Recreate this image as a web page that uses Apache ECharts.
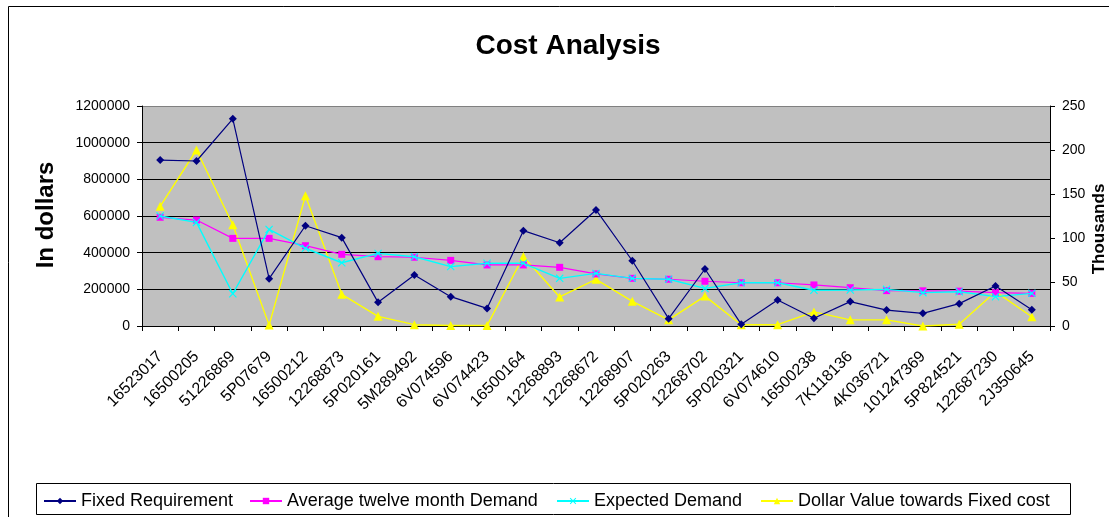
<!DOCTYPE html>
<html>
<head>
<meta charset="utf-8">
<script src="https://cdn.jsdelivr.net/npm/echarts@6/dist/echarts.min.js"></script>
<style>
html,body{margin:0;padding:0;background:#fff;}
#chart{width:1109px;height:517px;}
</style>
</head>
<body>
<div id="chart"></div>
<script>
const categories = ['16523017','16500205','51226869','5P07679','16500212','12268873','5P020161','5M289492','6V074596','6V074423','16500164','12268893','12268672','12268907','5P020263','12268702','5P020321','6V074610','16500238','7K118136','4K036721','101247369','5P824521','122687230','2J350645'];

const fixedRequirement = [905000, 900000, 1130000, 258000, 547000, 482000, 129000, 278000, 160000, 96000, 520000, 454000, 633000, 356000, 40000, 311000, 9000, 142000, 42000, 133000, 87000, 69000, 122000, 218000, 89000];

const avgTwelveMonthDemand = [593000, 578000, 478000, 478000, 438000, 391000, 378000, 375000, 358000, 333000, 333000, 320000, 284000, 260000, 255000, 244000, 236000, 236000, 224000, 209000, 193000, 192000, 190000, 182000, 178000];

const expectedDemand = [600000, 565000, 176000, 527000, 424000, 345000, 396000, 378000, 324000, 342000, 342000, 260000, 287000, 260000, 255000, 205000, 236000, 236000, 195000, 196000, 200000, 182000, 187000, 160000, 178000];

// secondary axis, in thousands of dollars
const dollarValueThousands = [136, 200, 115, 1, 148, 36, 11, 1.5, 0.5, 0.5, 79, 33, 53, 28, 7, 34, 1.5, 1.5, 16, 7, 7, 0, 2, 39, 10.5];

const leftTicks = [0, 200000, 400000, 600000, 800000, 1000000, 1200000];
const rightTicks = [0, 50, 100, 150, 200, 250];

const FONT = "'Liberation Sans', Arial, sans-serif";
const X_PATH = 'path://M0,1 L1,0 L5,4 L9,0 L10,1 L6,5 L10,9 L9,10 L5,6 L1,10 L0,9 L4,5 Z';

const chart = echarts.init(document.getElementById('chart'), null, {renderer: 'canvas'});

function legendAt(name, left) {
  return {
    left: left, top: 492, padding: 0,
    itemWidth: 32, itemHeight: 8, itemGap: 0,
    textStyle: {fontFamily: FONT, fontSize: 18, color: '#000'},
    data: [name]
  };
}

chart.setOption({
  animation: false,
  backgroundColor: '#fff',
  title: {
    text: 'Cost Analysis',
    left: 563, top: 27, textAlign: 'center',
    textStyle: {fontFamily: FONT, fontSize: 28, fontWeight: 'bold', color: '#000'}
  },
  graphic: [
    {type: 'rect', shape: {x: 8.5, y: 6.5, width: 1200, height: 700}, style: {fill: 'none', stroke: '#000', lineWidth: 1}, silent: true, z: -1},
    {type: 'rect', shape: {x: 36.5, y: 483.5, width: 1034, height: 31}, style: {fill: '#fff', stroke: '#000', lineWidth: 1}, silent: true, z: 0},
    {type: 'text', x: 46, y: 215, rotation: Math.PI / 2,
      style: {text: 'In dollars', fontFamily: FONT, fontSize: 24, fontWeight: 'bold', fill: '#000', textAlign: 'center', textVerticalAlign: 'middle'}},
    {type: 'text', x: 1099, y: 229, rotation: Math.PI / 2,
      style: {text: 'Thousands', fontFamily: FONT, fontSize: 17, fontWeight: 'bold', fill: '#000', textAlign: 'center', textVerticalAlign: 'middle'}}
  ],
  legend: [
    legendAt('Fixed Requirement', 43),
    legendAt('Average twelve month Demand', 249),
    legendAt('Expected Demand', 556),
    legendAt('Dollar Value towards Fixed cost', 760)
  ],
  grid: {
    left: 142, right: 59, top: 106, bottom: 191,
    show: true, backgroundColor: '#C0C0C0', borderWidth: 0
  },
  xAxis: {
    type: 'category',
    data: categories,
    boundaryGap: true,
    axisLine: {show: true, lineStyle: {color: '#000', width: 1}},
    axisTick: {show: true, interval: 0, length: 5, lineStyle: {color: '#000'}},
    axisLabel: {interval: 0, rotate: 45, margin: 28, fontFamily: FONT, fontSize: 16, color: '#000'},
    splitLine: {show: false}
  },
  yAxis: [
    {
      type: 'value', min: leftTicks[0], max: leftTicks[leftTicks.length - 1], interval: leftTicks[1] - leftTicks[0],
      position: 'left',
      axisLine: {show: true, lineStyle: {color: '#000', width: 1}},
      axisTick: {show: true, length: 5, lineStyle: {color: '#000'}},
      axisLabel: {margin: 12, fontFamily: FONT, fontSize: 14, color: '#000', formatter: v => String(v)},
      splitLine: {show: true, lineStyle: {color: ['#000','#000','#000','#000','#000','#000','#808080'], width: 1}}
    },
    {
      type: 'value', min: rightTicks[0], max: rightTicks[rightTicks.length - 1], interval: rightTicks[1] - rightTicks[0],
      position: 'right',
      axisLine: {show: true, lineStyle: {color: '#000', width: 1}},
      axisTick: {show: true, length: 5, lineStyle: {color: '#000'}},
      axisLabel: {margin: 12, fontFamily: FONT, fontSize: 14, color: '#000', formatter: v => String(v)},
      splitLine: {show: false}
    }
  ],
  series: [
    {
      name: 'Fixed Requirement', type: 'line', data: fixedRequirement, yAxisIndex: 0,
      symbol: 'diamond', symbolSize: 8, showAllSymbol: true,
      itemStyle: {color: '#000080'}, lineStyle: {color: '#000080', width: 1.2}, z: 5
    },
    {
      name: 'Average twelve month Demand', type: 'line', data: avgTwelveMonthDemand, yAxisIndex: 0,
      symbol: 'rect', symbolSize: 7, showAllSymbol: true,
      itemStyle: {color: '#FF00FF'}, lineStyle: {color: '#FF00FF', width: 1.2}, z: 3
    },
    {
      name: 'Expected Demand', type: 'line', data: expectedDemand, yAxisIndex: 0,
      symbol: X_PATH, symbolSize: 8, showAllSymbol: true,
      itemStyle: {color: '#00FFFF'}, lineStyle: {color: '#00FFFF', width: 1.4}, z: 4
    },
    {
      name: 'Dollar Value towards Fixed cost', type: 'line', data: dollarValueThousands, yAxisIndex: 1,
      symbol: 'triangle', symbolSize: 9, showAllSymbol: true,
      itemStyle: {color: '#FFFF00'}, lineStyle: {color: '#FFFF00', width: 1.4}, z: 2
    }
  ]
});
</script>
</body>
</html>
